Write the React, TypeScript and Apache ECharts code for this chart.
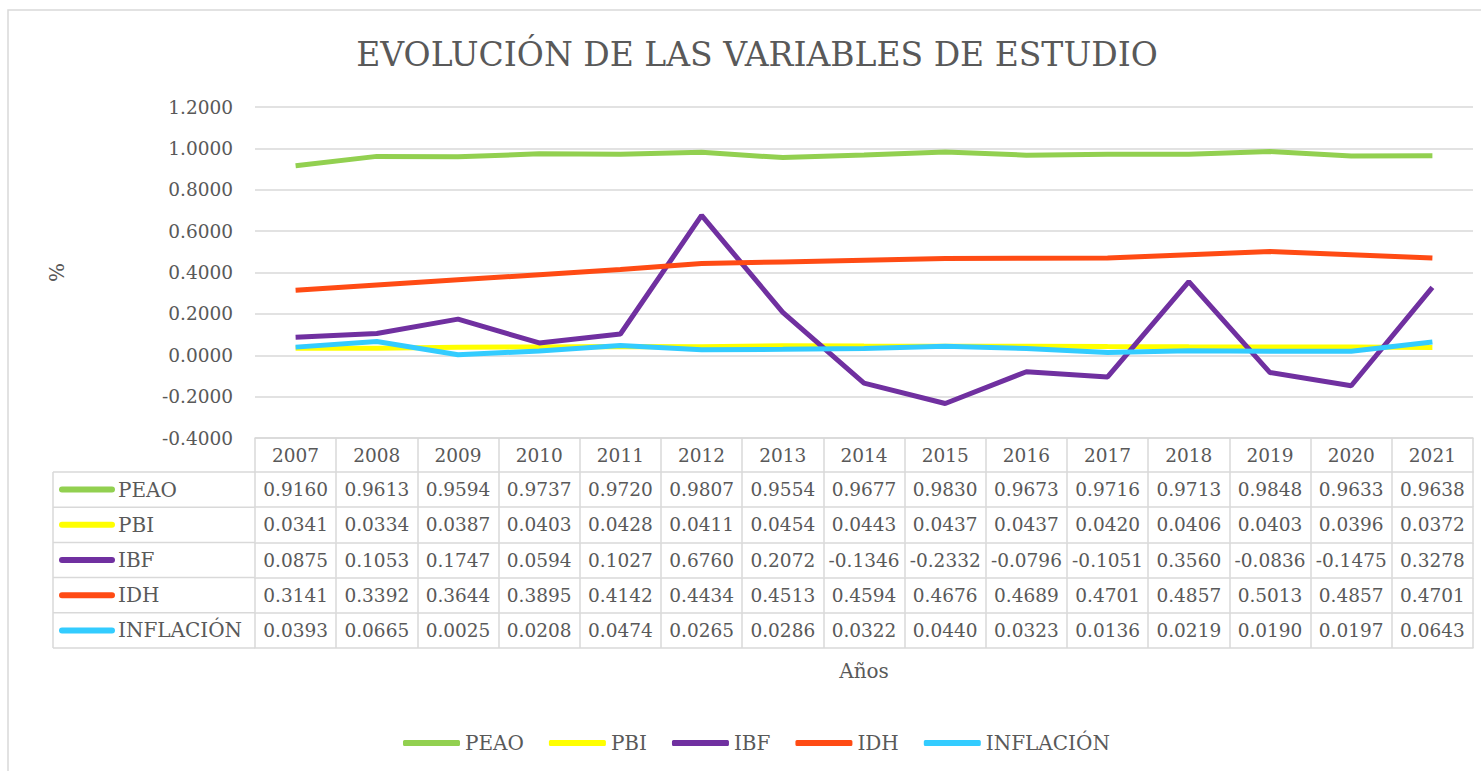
import React, { useEffect, useRef } from 'react';
import * as echarts from 'echarts';

const years = ['2007', '2008', '2009', '2010', '2011', '2012', '2013', '2014', '2015', '2016', '2017', '2018', '2019', '2020', '2021'];
const peao = [0.916, 0.9613, 0.9594, 0.9737, 0.972, 0.9807, 0.9554, 0.9677, 0.983, 0.9673, 0.9716, 0.9713, 0.9848, 0.9633, 0.9638];
const pbi = [0.0341, 0.0334, 0.0387, 0.0403, 0.0428, 0.0411, 0.0454, 0.0443, 0.0437, 0.0437, 0.042, 0.0406, 0.0403, 0.0396, 0.0372];
const ibf = [0.0875, 0.1053, 0.1747, 0.0594, 0.1027, 0.676, 0.2072, -0.1346, -0.2332, -0.0796, -0.1051, 0.356, -0.0836, -0.1475, 0.3278];
const idh = [0.3141, 0.3392, 0.3644, 0.3895, 0.4142, 0.4434, 0.4513, 0.4594, 0.4676, 0.4689, 0.4701, 0.4857, 0.5013, 0.4857, 0.4701];
const inflacion = [0.0393, 0.0665, 0.0025, 0.0208, 0.0474, 0.0265, 0.0286, 0.0322, 0.044, 0.0323, 0.0136, 0.0219, 0.019, 0.0197, 0.0643];

const seriesNames = ['PEAO', 'PBI', 'IBF', 'IDH', 'INFLACIÓN'];
const seriesColors = ['#92D050', '#FFFF00', '#7030A0', '#FF4B14', '#33CCFF'];
const seriesData = [peao, pbi, ibf, idh, inflacion];

const yMin = -0.4;
const yMax = 1.2;
const yStep = 0.2;

const titleText = 'EVOLUCIÓN DE LAS VARIABLES DE ESTUDIO';
const yName = '%';
const xName = 'Años';

const FONT = 'DejaVu Serif';
const TEXT = '#595959';
const LINE = '#d9d9d9';
const W = 1481;
const H = 771;
const GRID_L = 255;
const GRID_R = 1473;
const GRID_T = 107;
const GRID_B = 438;
const HEAD_H = 34;
const ROW_H = 35.2;
const TABLE_L = 53;
const FS_NUM = 18.5;
const FS_TXT = 20;

function makeAxis(offset: number, tickLen: number, margin: number, formatter: any) {
  return {
    type: 'category',
    data: years,
    gridIndex: 0,
    position: 'bottom',
    offset,
    boundaryGap: true,
    axisLine: { show: true, onZero: false, lineStyle: { color: LINE, width: 1.5 } },
    axisTick: { show: true, interval: 0, length: tickLen, lineStyle: { color: LINE, width: 1.5 } },
    splitLine: { show: false },
    axisLabel: {
      show: true,
      interval: 0,
      margin,
      verticalAlign: 'middle',
      fontSize: FS_NUM,
      fontFamily: FONT,
      color: TEXT,
      formatter,
    },
  };
}

export default function App() {
  const ref = useRef<HTMLDivElement>(null);
  useEffect(() => {
    if (!ref.current) return;
    const chart = echarts.init(ref.current, undefined, { renderer: 'svg' });

    const xAxes: any[] = [];
    xAxes.push(makeAxis(0, HEAD_H, HEAD_H / 2, (v: string) => v));
    seriesData.forEach((row, i) => {
      xAxes.push(
        makeAxis(HEAD_H + i * ROW_H, ROW_H, ROW_H / 2, (_v: string, idx: number) => row[idx].toFixed(4))
      );
    });
    xAxes.push({
      type: 'category',
      data: years,
      gridIndex: 0,
      position: 'bottom',
      offset: HEAD_H + seriesData.length * ROW_H,
      boundaryGap: true,
      axisLine: { show: true, onZero: false, lineStyle: { color: LINE, width: 1.5 } },
      axisTick: { show: false },
      axisLabel: { show: false },
      splitLine: { show: false },
      name: xName,
      nameLocation: 'middle',
      nameGap: 23,
      nameTextStyle: { fontSize: FS_TXT, fontFamily: FONT, color: TEXT, verticalAlign: 'middle' },
    });

    const graphics: any[] = [];
    graphics.push({
      type: 'rect',
      shape: { x: 8, y: 10, width: W + 40, height: H + 40 },
      style: { fill: 'none', stroke: LINE, lineWidth: 1.5 },
      silent: true,
      z: -10,
    });
    const tableTop = GRID_B + HEAD_H;
    const tableBottom = tableTop + seriesData.length * ROW_H;
    graphics.push({
      type: 'line',
      shape: { x1: TABLE_L, y1: tableTop, x2: TABLE_L, y2: tableBottom },
      style: { stroke: LINE, lineWidth: 1.5 },
      silent: true,
    });
    for (let i = 0; i <= seriesData.length; i++) {
      const y = tableTop + i * ROW_H;
      graphics.push({
        type: 'line',
        shape: { x1: TABLE_L, y1: y, x2: GRID_L, y2: y },
        style: { stroke: LINE, lineWidth: 1.5 },
        silent: true,
      });
    }
    seriesNames.forEach((name, i) => {
      const cy = tableTop + i * ROW_H + ROW_H / 2;
      graphics.push({
        type: 'rect',
        shape: { x: 59, y: cy - 3, width: 56, height: 6, r: 3 },
        style: { fill: seriesColors[i] },
        silent: true,
      });
      graphics.push({
        type: 'text',
        x: 118,
        y: cy,
        style: {
          text: name,
          fontSize: FS_TXT,
          fontFamily: FONT,
          fill: TEXT,
          textAlign: 'left',
          textVerticalAlign: 'middle',
          align: 'left',
          verticalAlign: 'middle',
        },
        silent: true,
      });
    });

    chart.setOption({
      animation: false,
      backgroundColor: '#ffffff',
      textStyle: { fontFamily: FONT },
      title: {
        text: titleText,
        left: 752,
        top: 33,
        textAlign: 'center',
        textStyle: { fontSize: 33, fontFamily: FONT, color: TEXT, fontWeight: 'normal' },
      },
      legend: {
        data: seriesNames,
        left: 398,
        top: 728,
        icon: 'roundRect',
        itemWidth: 57,
        itemHeight: 6,
        itemGap: 25,
        textStyle: { fontSize: FS_TXT, fontFamily: FONT, color: TEXT },
      },
      grid: { left: GRID_L, right: W - GRID_R, top: GRID_T, bottom: H - GRID_B, containLabel: false },
      xAxis: xAxes,
      yAxis: {
        type: 'value',
        min: yMin,
        max: yMax,
        interval: yStep,
        axisLine: { show: false },
        axisTick: { show: false },
        splitLine: { show: true, lineStyle: { color: LINE, width: 1.5 } },
        axisLabel: {
          margin: 22,
          fontSize: FS_NUM,
          fontFamily: FONT,
          color: TEXT,
          formatter: (v: number) => v.toFixed(4),
        },
        name: yName,
        nameLocation: 'middle',
        nameGap: 188,
        nameTextStyle: { fontSize: FS_TXT, fontFamily: FONT, color: TEXT },
      },
      series: seriesNames.map((name, i) => ({
        name,
        type: 'line',
        data: seriesData[i],
        xAxisIndex: 0,
        yAxisIndex: 0,
        symbol: 'none',
        showSymbol: false,
        lineStyle: { color: seriesColors[i], width: 5 },
        itemStyle: { color: seriesColors[i] },
        z: 2 + i,
      })),
      graphic: graphics,
    });
    return () => chart.dispose();
  }, []);
  return (
    <div
      ref={ref}
      style={{ position: 'fixed', left: 0, top: 0, width: W, height: H, background: '#fff' }}
    />
  );
}
